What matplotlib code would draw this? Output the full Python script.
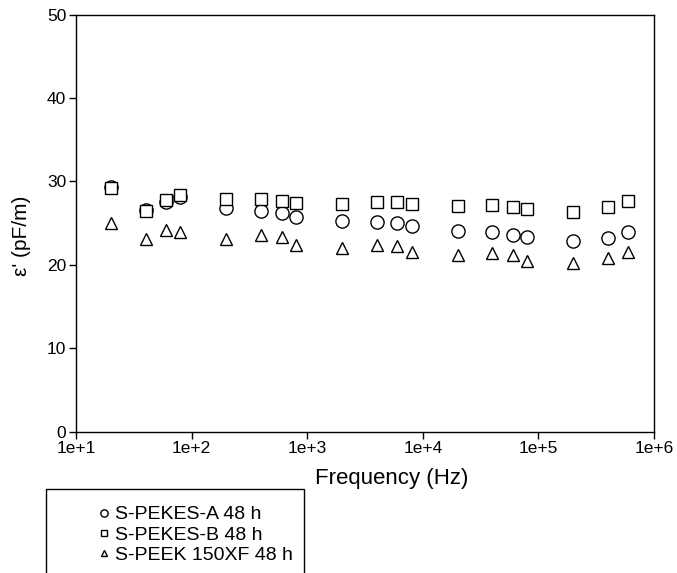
import matplotlib
matplotlib.use("Agg")
import matplotlib.pyplot as plt
from matplotlib.patches import Rectangle

plt.rcParams['font.family'] = ['Liberation Sans', 'DejaVu Sans']

freq = [20, 40, 60, 80, 200, 400, 600, 800, 2000, 4000, 6000, 8000,
        2e4, 4e4, 6e4, 8e4, 2e5, 4e5, 6e5]
pekes_a = [29.4, 26.6, 27.6, 28.2, 26.8, 26.5, 26.2, 25.8, 25.3, 25.1, 25.0, 24.7,
           24.1, 23.9, 23.6, 23.3, 22.9, 23.2, 23.9]
pekes_b = [29.2, 26.5, 27.8, 28.4, 27.9, 27.9, 27.7, 27.4, 27.3, 27.5, 27.5, 27.3,
           27.1, 27.2, 27.0, 26.7, 26.4, 27.0, 27.7]
peek_150xf = [25.0, 23.1, 24.2, 24.0, 23.1, 23.6, 23.4, 22.4, 22.0, 22.4, 22.3, 21.6,
              21.2, 21.4, 21.2, 20.5, 20.2, 20.8, 21.6]

labels = ["S-PEKES-A 48 h", "S-PEKES-B 48 h", "S-PEEK 150XF 48 h"]
xticks = [1e1, 1e2, 1e3, 1e4, 1e5, 1e6]
xticklabels = ["1e+1", "1e+2", "1e+3", "1e+4", "1e+5", "1e+6"]
yticks = [0, 10, 20, 30, 40, 50]

fig = plt.figure(figsize=(6.77, 5.73), dpi=100)
ax = fig.add_axes([76/677, 1 - 431.7/573, (654 - 76)/677, (431.7 - 14.7)/573])

kw = dict(linestyle='none', markerfacecolor='white', markeredgecolor='black',
          markeredgewidth=1.0, markersize=9.5)
h1, = ax.plot(freq, pekes_a, marker='o', label=labels[0], **kw)
h2, = ax.plot(freq, pekes_b, marker='s', label=labels[1], **dict(kw, markersize=8.5))
h3, = ax.plot(freq, peek_150xf, marker='^', label=labels[2], **dict(kw, markersize=9))

ax.set_xscale('log')
ax.set_xlim(1e1, 1e6)
ax.set_ylim(0, 50)
ax.set_xticks(xticks)
ax.set_xticklabels(xticklabels)
ax.minorticks_off()
ax.set_yticks(yticks)
ax.tick_params(direction='out', length=5, width=1, labelsize=12.5, colors='black', pad=2)
for s in ax.spines.values():
    s.set_linewidth(1)
ax.set_xlabel("Frequency (Hz)", fontsize=16)
ax.xaxis.set_label_coords((392 - 76) / 578, (431.7 - 468) / 417)
ax.set_ylabel("ε' (pF/m)", fontsize=15)
ax.yaxis.set_label_coords((31 - 76) / 578, 0.47)

leg = fig.legend(handles=[h1, h2, h3], labels=labels, loc='upper left',
                 bbox_to_anchor=(88/677, 1 - 496/573), frameon=False,
                 fontsize=14, markerscale=0.55, handlelength=0.6,
                 handletextpad=0.27, labelspacing=0.14, borderpad=0)
fig.patches.append(Rectangle((46/677, -0.05), (304 - 46)/677, (1 - 489/573) + 0.05,
                             transform=fig.transFigure, fill=False,
                             edgecolor='black', linewidth=1))

fig.savefig("out.png", dpi=100)
